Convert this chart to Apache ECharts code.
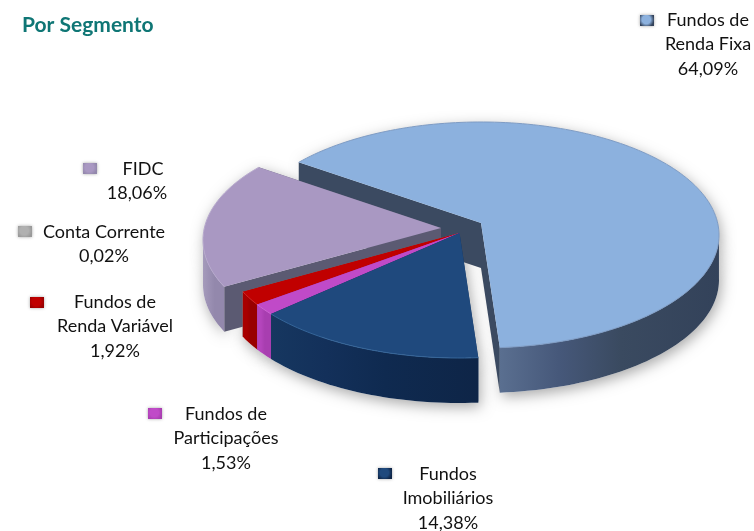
<!DOCTYPE html>
<html>
<head>
<meta charset="utf-8">
<style>
  html,body{margin:0;padding:0;background:#fff;}
  #main{width:754px;height:531px;}
</style>
</head>
<body>
<div id="main"></div>
<script src="https://cdn.jsdelivr.net/npm/echarts@6/dist/echarts.min.js"></script>
<script>
// valores, na ordem em que as fatias giram no sentido horario
var names = ['Fundos de\nRenda Fixa', 'Fundos\nImobiliários', 'Fundos de\nParticipações', 'Fundos de\nRenda Variável', 'Conta Corrente', 'FIDC'];
var values = [64.09, 14.38, 1.53, 1.92, 0.02, 18.06];

var titleText = 'Por Segmento';

// cores: topo, parede, face do corte, brilho da borda
var topColors = ['#8cb1de', '#1f497d', '#c04ac8', '#c00000', '#b0b0b0', '#a998c2'];
var wallColors = [
  ['#5a6f90', '#46587a', '#3a4a60', '#33425a'],
  ['#163760', '#13305a', '#0f2a50', '#0e2547'],
  ['#b445bc', '#b445bc', '#a83eb0', '#a83eb0'],
  ['#a80000', '#a80000', '#980000', '#980000'],
  ['#999999', '#999999', '#999999', '#999999'],
  ['#a59bbb', '#9c91b4', '#9388ac', '#9388ac']
];
var faceColors = ['#3b4a61', '#13305a', '#a83eb0', '#980000', '#888888', '#5b5a72'];
var rimColors = ['#7f9cc4', '#356599', '#cc66d2', '#cf2a2a', '#bbbbbb', '#b6a8cc'];

// layout da pizza
var centers = [[481, 235], [459.5, 245], [459.5, 245], [459.5, 245], [459.5, 245], [441, 240]];
var paintOrder = [10, 50, 40, 30, 25, 20];
var RX = 238, RY = 113, DEPTH = 45;
var PERSP = 0.106; // o vertice fica acima do centro da elipse
var START_ANGLE = 144.8;

// layout das legendas: marcador [x,y], centro x, y de cada linha
var labelLayout = [
  {m: [640, 15], x: 708, y: 20, first: 0},
  {m: [378, 468], x: 448, y: 474, first: 0},
  {m: [148, 408], x: 226, y: 414, first: 0},
  {m: [30, 297], x: 115, y: 302, first: 0},
  {m: [18, 226], x: 104, y: 232, first: 0},
  {m: [83, 163], x: 137, y: 169, first: 6}
];
var LINE_H = 24.6;

var total = values.reduce(function (a, b) { return a + b; }, 0);

function project(center, u, v) {
  var d = 1 + PERSP * v;
  var X = u * Math.sqrt(1 - PERSP * PERSP) / d;
  var Y = (v + PERSP) / d;
  return {x: center[0] + RX * X, y: center[1] - RY * Y, Y: Y};
}

function rimPoints(center, from, to) {
  var pts = [];
  var n = Math.max(2, Math.ceil(Math.abs(to - from) / 1.5));
  for (var k = 0; k <= n; k++) {
    var a = (from + (to - from) * k / n) * Math.PI / 180;
    pts.push(project(center, Math.cos(a), Math.sin(a)));
  }
  return pts;
}

function xy(p, dy) { return [p.x, p.y + (dy || 0)]; }

function quad(a, b) {
  return [xy(a), xy(b), xy(b, DEPTH), xy(a, DEPTH)];
}

function renderSlice(params, api) {
  var i = params.dataIndex;
  var before = 0;
  for (var k = 0; k < i; k++) before += values[k];
  var from = START_ANGLE - before / total * 360;
  var to = from - api.value(0) / total * 360;
  var c = centers[i];
  var rim = rimPoints(c, from, to);
  var apex = project(c, 0, 0);
  var z = paintOrder[i];

  var front = rim.filter(function (p) { return p.Y <= 0.02; });
  var wall = front.map(function (p) { return xy(p); })
    .concat(front.slice().reverse().map(function (p) { return xy(p, DEPTH); }));
  var topShape = [xy(apex)].concat(rim.map(function (p) { return xy(p); }));

  var stops = wallColors[i].map(function (col, idx) {
    return {offset: [0, 0.27, 0.55, 1][idx], color: col};
  });
  var wallFill = {type: 'linear', x: 0, y: 0, x2: 1, y2: 0, colorStops: stops};

  var children = [];
  // sombra embaixo de tudo
  var shadow = {fill: '#fff', shadowBlur: 14, shadowColor: 'rgba(0,0,0,0.34)', shadowOffsetX: 2, shadowOffsetY: 4};
  children.push({type: 'polygon', z2: 1, shape: {points: topShape}, style: shadow});
  if (front.length > 1) {
    children.push({type: 'polygon', z2: 1, shape: {points: wall}, style: shadow});
  }
  // faces do corte
  children.push({type: 'polygon', z2: z, shape: {points: quad(apex, rim[0])}, style: {fill: faceColors[i]}});
  children.push({type: 'polygon', z2: z, shape: {points: quad(apex, rim[rim.length - 1])}, style: {fill: faceColors[i]}});
  if (front.length > 1) {
    children.push({type: 'polygon', z2: z + 1, shape: {points: wall}, style: {fill: wallFill}});
  }
  children.push({type: 'polygon', z2: z + 2, shape: {points: topShape}, style: {fill: topColors[i]}});
  children.push({
    type: 'polyline',
    z2: z + 3,
    shape: {points: rim.map(function (p) { return xy(p); })},
    style: {fill: null, stroke: rimColors[i], lineWidth: 1}
  });
  return {type: 'group', children: children};
}

function percent(v) {
  return v.toFixed(2).replace('.', ',') + '%';
}

function buildLabels() {
  var items = [];
  names.forEach(function (name, i) {
    var l = labelLayout[i];
    var lines = name.split('\n').concat(percent(values[i]));
    lines.forEach(function (line, n) {
      items.push({
        type: 'text',
        x: l.x + (n === 0 ? l.first : 0),
        y: l.y + n * LINE_H,
        style: {
          text: line,
          fill: '#111',
          font: '18px Lato',
          align: 'center',
          verticalAlign: 'middle'
        }
      });
    });
    items.push({
      type: 'rect',
      x: l.m[0],
      y: l.m[1],
      shape: {width: 14, height: 11},
      style: {
        fill: {
          type: 'radial', x: 0.45, y: 0.42, r: 0.7,
          colorStops: [{offset: 0, color: topColors[i]}, {offset: 0.55, color: topColors[i]}, {offset: 1, color: wallColors[i][3]}]
        },
        shadowBlur: 3,
        shadowColor: 'rgba(0,0,0,0.35)'
      }
    });
  });
  return items;
}

var chart = echarts.init(document.getElementById('main'));
chart.setOption({
  animation: false,
  backgroundColor: '#fff',
  title: {
    text: titleText,
    left: 22,
    top: 15,
    padding: 0,
    textStyle: {color: '#0f7675', fontFamily: 'Lato', fontWeight: 'bold', fontSize: 21}
  },
  graphic: buildLabels(),
  series: [{
    type: 'custom',
    coordinateSystem: 'none',
    silent: true,
    renderItem: renderSlice,
    data: values.map(function (v) { return [v]; })
  }]
});
</script>
</body>
</html>
